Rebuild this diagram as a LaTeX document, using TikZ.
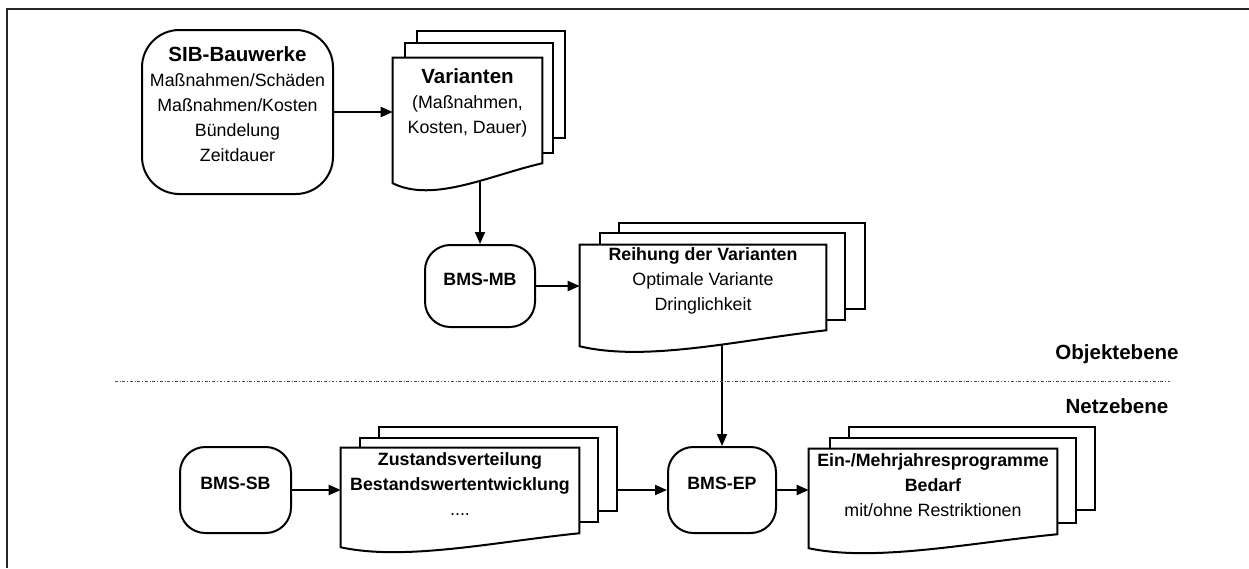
\documentclass[tikz,border=0pt]{standalone}
\usepackage{fontspec}
\setmainfont{Liberation Sans}
\usetikzlibrary{arrows.meta,calc,fit}

% connectors lie below the paper sheets, sheets below the texts
\pgfdeclarelayer{wires}
\pgfdeclarelayer{sheets}
\pgfsetlayers{wires,sheets,main}

\newcommand\normalsz{\fontsize{13.35}{18.75}\selectfont}
\newcommand\bigsz{\fontsize{15.4}{18.75}\selectfont}

% front sheet of a document stack: straight top and sides, wavy lower edge
% #1 node name, #2 how far the lower left corner drops below the lower right one
\newcommand\frontsheet[2]{%
  \draw[outline, fill=white]
    (#1.north west) -- (#1.north east) -- (#1.south east)
    .. controls ($(#1.south east)!0.35!(#1.south west)+(0,{0.6*#2})$)
           and ($(#1.south east)!0.73!(#1.south west)+(0,{2*#2})$)
    .. ($(#1.south west)+(0,#2)$) -- cycle;}

\tikzset{
  diagram/.style={x=0.75pt, y=-0.75pt},
  outline/.style={line width=1.5pt, line join=miter},
  procbox/.style={outline, draw, fill=white, inner sep=0pt, align=center,
                  rounded corners=19pt, font=\normalsz\bfseries},
  sheet/.style={outline, draw, fill=white, inner sep=0pt},
  sheettext/.style={inner sep=0pt, align=center, font=\normalsz},
  flow/.style={line width=1.5pt, -{Triangle[length=9pt,width=7.5pt]}},
  levellabel/.style={anchor=base, font=\bigsz\bfseries},
  levelsep/.style={line width=0.6pt, black!70,
                   dash pattern=on 2.2pt off 1.4pt on 0.6pt off 1.4pt},
  frameline/.style={line width=1.3pt, black!85}
}

\begin{document}
\begin{tikzpicture}[diagram]
\useasboundingbox (0,0) rectangle (1249,568);

% outer frame (top and left edges)
\draw[frameline] (7,568) -- (7,9) -- (1249,9);

% ---------- object level ----------
\node[procbox, rounded corners=28pt, font=\normalsz, fit={(142,30) (333,194)}] (sib)
  {{\bigsz\bfseries SIB-Bauwerke}\\Maßnahmen/Schäden\\Maßnahmen/Kosten\\Bündelung\\Zeitdauer};

\node[sheettext, fit={(393,58) (542,163)}] (varF)
  {{\bigsz\bfseries Varianten}\\(Maßnahmen,\\Kosten, Dauer)};
\begin{pgfonlayer}{sheets}
  \node[sheet, fit={(417,31) (565,138)}] (varB) {};
  \node[sheet, fit={(405,43) (553,153)}] (varM) {};
  \frontsheet{varF}{20}
\end{pgfonlayer}

\node[procbox, fit={(425,245) (535,327)}] (mb) {BMS-MB};

\node[sheettext, fit={(580,245) (826,330)}] (reihF)
  {\textbf{Reihung der Varianten}\\Optimale Variante\\Dringlichkeit};
\begin{pgfonlayer}{sheets}
  \node[sheet, fit={(619,223) (865,309)}] (reihB) {};
  \node[sheet, fit={(600,233) (845,320)}] (reihM) {};
  \frontsheet{reihF}{16}
\end{pgfonlayer}

% ---------- level labels and separator ----------
\node[levellabel] (obj) at (1117,359) {Objektebene};
\draw[levelsep] (115,381) -- (1170,381);
\node[levellabel] (netz) at (1117,413) {Netzebene};

% ---------- network level ----------
\node[procbox, fit={(180,447) (291,533)}] (sb) {BMS-SB};

\node[sheettext, fit={(341,448) (579,533)}] (zusF)
  {\textbf{Zustandsverteilung}\\\textbf{Bestandswertentwicklung}\\....};
\begin{pgfonlayer}{sheets}
  \node[sheet, fit={(379,427) (617,511)}] (zusB) {};
  \node[sheet, fit={(360,438) (598,522)}] (zusM) {};
  \frontsheet{zusF}{14}
\end{pgfonlayer}

\node[procbox, fit={(668,447) (776,533)}] (ep) {BMS-EP};

\node[sheettext, fit={(809,449) (1057,534)}] (elpF)
  {\textbf{Ein-/Mehrjahresprogramme}\\\textbf{Bedarf}\\mit/ohne Restriktionen};
\begin{pgfonlayer}{sheets}
  \node[sheet, fit={(849,427) (1095,510)}] (elpB) {};
  \node[sheet, fit={(830,438) (1076,523)}] (elpM) {};
  \frontsheet{elpF}{14}
\end{pgfonlayer}

% ---------- connectors ----------
\begin{pgfonlayer}{wires}
  \draw[flow] (sib.east) -- (sib.east -| varF.west);
  \draw[flow] (mb.north |- varF.south) -- (mb.north);
  \draw[flow] (mb.east) -- (mb.east -| reihF.west);
  \draw[flow] (ep.north |- reihF.south) -- (ep.north);
  \draw[flow] (sb.east) -- (sb.east -| zusF.west);
  \draw[flow] (zusB.east |- ep.west) -- (ep.west);
  \draw[flow] (ep.east) -- (ep.east -| elpF.west);
\end{pgfonlayer}
\end{tikzpicture}
\end{document}
